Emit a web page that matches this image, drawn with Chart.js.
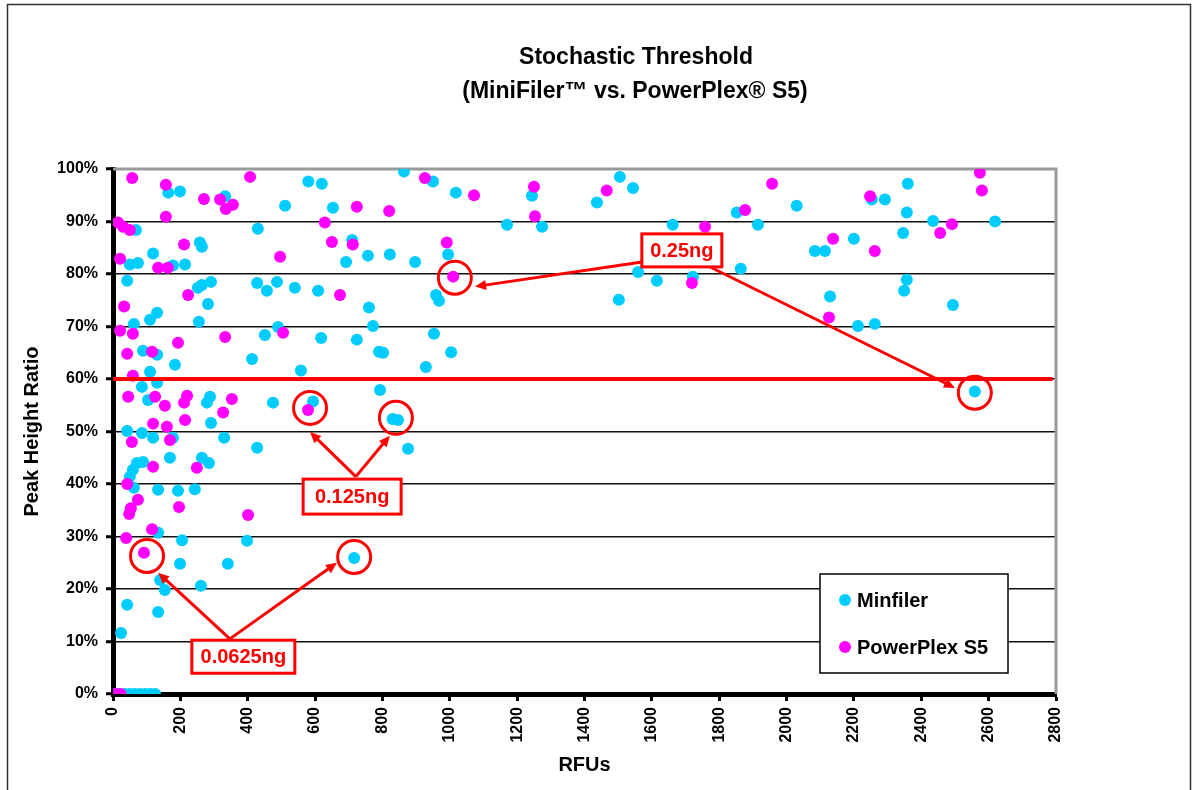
<!DOCTYPE html>
<html>
<head>
<meta charset="utf-8">
<title>Stochastic Threshold</title>
<script src="https://cdn.jsdelivr.net/npm/chart.js@4.4.1/dist/chart.umd.min.js"></script>
<style>
  html, body { margin: 0; padding: 0; background: #fff; }
  #contenedor { width: 1192px; height: 790px; }
</style>
</head>
<body>
<div id="contenedor"><canvas id="grafico"></canvas></div>
<script>
// ==========================================
// Datos
// ==========================================

// MiniFiler: RFUs y ratio de altura de picos (%)
const minfilerRfu = [
    5, 20, 35, 50, 65, 80, 95, 110, 125,
    24, 42, 134, 140, 154, 261, 199, 341, 716, 134, 205, 398,
    62, 134, 193, 243, 71, 89, 59, 50, 264, 285, 169, 428, 330,
    42, 86, 119, 178, 291, 104, 288, 279, 475, 594,
    86, 131, 110, 558, 184, 413, 89, 131,
    62, 110, 131, 255, 451, 490, 618,
    42, 264, 291, 252, 282, 428, 457, 487, 540, 609,
    50, 74, 178, 214, 119, 258, 264, 68, 430,
    164, 199, 333, 511, 580, 620,
    653, 710, 692, 757, 822, 897, 760, 772, 724, 790, 802, 793, 830, 846,
    876, 864, 950, 1018, 1170, 1244, 1274, 995, 959, 968, 953, 1004, 929,
    1505, 1544, 1437, 2030, 1852, 1915, 1662, 2360, 2253, 2292, 2357, 2435, 2619, 2346,
    2200, 2084, 2114, 2357, 2349, 2494, 2129, 2212, 2262, 2559, 1864, 1559, 1615, 1722, 1502
];
const minfilerRatio = [
    0, 0, 0, 0, 0, 0, 0, 0, 0,
    11.6, 17.0, 15.6, 21.7, 19.8, 20.6, 24.8, 24.8, 25.9, 30.7, 29.3, 29.2,
    39.3, 38.9, 38.7, 39.0, 44.0, 44.2, 42.7, 41.4, 45.0, 44.0, 45.0, 46.9, 48.8,
    50.1, 49.7, 48.8, 48.8, 51.6, 56.0, 56.6, 55.5, 55.5, 55.7,
    58.5, 59.3, 61.4, 61.6, 62.7, 63.8, 65.4, 64.6,
    70.5, 71.3, 72.6, 70.9, 68.4, 69.9, 67.8,
    78.7, 77.9, 78.5, 77.4, 74.3, 78.3, 76.8, 78.5, 77.4, 76.8,
    81.8, 82.1, 81.6, 81.8, 83.9, 86.0, 85.2, 88.4, 88.6,
    95.5, 95.7, 94.8, 93.0, 97.6, 97.2,
    92.6, 86.5, 82.3, 83.5, 83.7, 82.3, 73.6, 70.1, 67.5, 65.2, 65.0, 57.9, 52.4, 52.2,
    46.7, 99.5, 97.6, 95.5, 89.4, 94.9, 89.0, 83.7, 76.0, 74.9, 68.6, 65.1, 62.3,
    98.5, 96.4, 93.6, 93.0, 91.7, 89.4, 89.4, 97.2, 94.2, 94.2, 91.7, 90.1, 90.0, 87.8,
    86.7, 84.4, 84.4, 78.9, 76.8, 74.1, 75.7, 70.1, 70.5, 57.6, 81.0, 80.4, 78.7, 79.5, 75.1
];

// PowerPlex S5
const powerplexRfu = [
    8, 22,
    39, 92, 116, 48, 53, 401, 196, 74, 42,
    119, 249, 56, 169, 160, 119, 214, 579, 327, 353, 211, 220, 154, 125, 45, 59,
    116, 42, 193, 505, 333, 59, 21, 33, 223,
    163, 134, 21, 496, 211, 50, 30, 15, 157, 407, 335, 356, 318, 270, 157, 57,
    674, 712, 650, 629, 820, 724, 926, 1072, 1250, 1253, 991, 1010,
    1466, 1957, 1877, 1758, 2248, 2574, 2580, 2491, 2456, 2138, 2262, 2126, 1719
];
const powerplexRatio = [
    0, 0,
    29.7, 26.9, 31.4, 34.3, 35.4, 34.1, 35.6, 37.0, 40.0,
    43.3, 43.1, 48.0, 48.4, 50.9, 51.5, 52.2, 54.1, 53.6, 56.2, 55.5, 56.8, 54.9, 56.6, 56.6, 60.6,
    65.2, 64.8, 66.9, 68.8, 68.0, 68.6, 69.2, 73.8, 76.0,
    81.2, 81.2, 82.9, 83.3, 85.6, 88.4, 89.0, 89.8, 90.9, 98.5, 92.4, 93.2, 94.2, 94.3, 97.0, 98.3,
    76.0, 85.6, 86.1, 89.8, 92.0, 92.8, 98.3, 95.0, 96.6, 91.0, 86.0, 79.5,
    95.9, 97.2, 92.2, 89.0, 94.8, 99.3, 95.9, 89.5, 87.8, 86.7, 84.4, 71.7, 78.3
];

// Umbral estocástico (línea roja)
const umbralRfu = [0, 2790];
const umbralRatio = [60, 60];

// Marcas de los ejes
const rfuTicks = [0, 200, 400, 600, 800, 1000, 1200, 1400, 1600, 1800, 2000, 2200, 2400, 2600, 2800];
const ratioTicks = [0, 10, 20, 30, 40, 50, 60, 70, 80, 90, 100];

// Anotaciones en rojo (en unidades de datos: RFU, %)
const anotaciones = [
    { texto: '0.0625ng', centro: [387, 7.1], ancho: 103, alto: 33, origen: [347, 10.5],
      flechas: [[134, 23.1], [665, 25.0]], circulos: [[101, 26.3], [716, 26.1]] },
    { texto: '0.125ng', centro: [710, 37.6], ancho: 98, alto: 35, origen: [721, 41.4],
      flechas: [[585, 49.9], [822, 49.2]], circulos: [[585, 54.5], [840, 52.6]] },
    { texto: '0.25ng', centro: [1689, 84.5], ancho: 80, alto: 33, origen: null,
      flechas: [], circulos: [[1015, 79.3], [2559, 57.4]] }
];
// flechas de 0.25ng salen de puntos distintos del recuadro
const flechas025 = [
    { desde: [1571, 82.3], hasta: [1075, 77.6] },
    { desde: [1752, 82.0], hasta: [2500, 58.3] }
];

const ROJO = '#ff0000';
const FAMILIA = '"Liberation Sans", Arial, sans-serif';

const aPuntos = (xs, ys) => xs.map((x, i) => ({ x: x, y: ys[i] }));

// ==========================================
// Plugins propios
// ==========================================

// Fondo, marco exterior, título y borde gris del área de trazado
const marco = {
    id: 'marco',
    beforeDraw(chart) {
        const { ctx, width, height } = chart;
        ctx.save();
        ctx.fillStyle = '#ffffff';
        ctx.fillRect(0, 0, width, height);
        ctx.strokeStyle = '#333333';
        ctx.lineWidth = 1.5;
        ctx.strokeRect(7.5, 4.5, width - 9, height + 10);

        ctx.fillStyle = '#000000';
        ctx.font = 'bold 23px ' + FAMILIA;
        ctx.textAlign = 'center';
        ctx.textBaseline = 'middle';
        ctx.fillText('Stochastic Threshold', 636, 58);
        ctx.fillText('(MiniFiler™ vs. PowerPlex® S5)', 635, 92);
        ctx.restore();
    },
    beforeDatasetsDraw(chart) {
        const { ctx, chartArea: a } = chart;
        ctx.save();
        ctx.strokeStyle = '#9a9a9a';
        ctx.lineWidth = 3;
        ctx.beginPath();
        ctx.moveTo(a.left, a.top);
        ctx.lineTo(a.right, a.top);
        ctx.lineTo(a.right, a.bottom);
        ctx.stroke();
        ctx.restore();
    }
};

function dibujarFlecha(ctx, x1, y1, x2, y2) {
    const ang = Math.atan2(y2 - y1, x2 - x1);
    const largo = 11, medio = 5;
    ctx.beginPath();
    ctx.moveTo(x1, y1);
    ctx.lineTo(x2 - Math.cos(ang) * largo * 0.6, y2 - Math.sin(ang) * largo * 0.6);
    ctx.stroke();
    ctx.beginPath();
    ctx.moveTo(x2, y2);
    ctx.lineTo(x2 - Math.cos(ang) * largo + Math.sin(ang) * medio, y2 - Math.sin(ang) * largo - Math.cos(ang) * medio);
    ctx.lineTo(x2 - Math.cos(ang) * largo - Math.sin(ang) * medio, y2 - Math.sin(ang) * largo + Math.cos(ang) * medio);
    ctx.closePath();
    ctx.fill();
}

// Círculos, flechas y recuadros rojos + leyenda enmarcada
const notas = {
    id: 'notas',
    afterDatasetsDraw(chart) {
        const { ctx, chartArea: a } = chart;
        const sx = chart.scales.x, sy = chart.scales.y;
        const px = v => sx.getPixelForValue(v);
        const py = v => sy.getPixelForValue(v);

        ctx.save();
        ctx.strokeStyle = ROJO;
        ctx.fillStyle = ROJO;
        ctx.lineWidth = 3;

        // circulos
        anotaciones.forEach(n => {
            n.circulos.forEach(c => {
                ctx.beginPath();
                ctx.arc(px(c[0]), py(c[1]), 16.5, 0, Math.PI * 2);
                ctx.stroke();
            });
        });

        // flechas
        anotaciones.forEach(n => {
            n.flechas.forEach(f => {
                dibujarFlecha(ctx, px(n.origen[0]), py(n.origen[1]), px(f[0]), py(f[1]));
            });
        });
        flechas025.forEach(f => {
            dibujarFlecha(ctx, px(f.desde[0]), py(f.desde[1]), px(f.hasta[0]), py(f.hasta[1]));
        });

        // recuadros con texto
        ctx.font = 'bold 20px ' + FAMILIA;
        ctx.textAlign = 'center';
        ctx.textBaseline = 'middle';
        anotaciones.forEach(n => {
            const cx = px(n.centro[0]), cy = py(n.centro[1]);
            ctx.fillStyle = '#ffffff';
            ctx.fillRect(cx - n.ancho / 2, cy - n.alto / 2, n.ancho, n.alto);
            ctx.strokeRect(cx - n.ancho / 2, cy - n.alto / 2, n.ancho, n.alto);
            ctx.fillStyle = ROJO;
            ctx.fillText(n.texto, cx, cy + 1);
        });
        ctx.restore();

        // leyenda (Minfiler primero, como en el original)
        const series = chart.data.datasets.filter(d => d.enLeyenda).sort((p, q) => q.order - p.order);
        const lx = a.right - 236, ly = a.bottom - 120, lw = 188, lh = 99;
        ctx.save();
        ctx.fillStyle = '#ffffff';
        ctx.fillRect(lx, ly, lw, lh);
        ctx.strokeStyle = '#000000';
        ctx.lineWidth = 1.5;
        ctx.strokeRect(lx, ly, lw, lh);
        ctx.font = 'bold 20px ' + FAMILIA;
        ctx.textAlign = 'left';
        ctx.textBaseline = 'middle';
        series.forEach((d, i) => {
            const yy = ly + 26 + i * 47;
            ctx.fillStyle = d.backgroundColor;
            ctx.beginPath();
            ctx.arc(lx + 25, yy, 6, 0, Math.PI * 2);
            ctx.fill();
            ctx.fillStyle = '#000000';
            ctx.fillText(d.label, lx + 37, yy + 1);
        });
        ctx.restore();
    }
};

// ==========================================
// Gráfico
// ==========================================
const fuenteTick = { family: FAMILIA, size: 16, weight: 'bold' };
const fuenteTitulo = { family: FAMILIA, size: 20, weight: 'bold' };

new Chart(document.getElementById('grafico'), {
    type: 'scatter',
    data: {
        datasets: [
            {
                label: 'Umbral',
                data: aPuntos(umbralRfu, umbralRatio),
                showLine: true,
                borderColor: ROJO,
                borderWidth: 4,
                pointRadius: 0,
                order: 0
            },
            {
                label: 'PowerPlex S5',
                data: aPuntos(powerplexRfu, powerplexRatio),
                backgroundColor: '#ff00ff',
                borderColor: '#ff00ff',
                borderWidth: 0,
                pointRadius: 6,
                enLeyenda: true,
                order: 1
            },
            {
                label: 'Minfiler',
                data: aPuntos(minfilerRfu, minfilerRatio),
                backgroundColor: '#00ccff',
                borderColor: '#00ccff',
                borderWidth: 0,
                pointRadius: 6,
                enLeyenda: true,
                order: 2
            }
        ]
    },
    options: {
        responsive: true,
        maintainAspectRatio: false,
        animation: false,
        events: [],
        layout: { padding: { top: 169, right: 136, left: 0, bottom: 0 } },
        scales: {
            x: {
                type: 'linear',
                min: 0,
                max: 2800,
                afterBuildTicks: s => { s.ticks = rfuTicks.map(v => ({ value: v })); },
                afterFit: s => { s.height = 96; },
                ticks: { autoSkip: false, minRotation: 90, maxRotation: 90, padding: 6, color: '#000', font: fuenteTick,
                         callback: v => String(v) },
                grid: { drawOnChartArea: false, drawTicks: true, tickLength: 7, tickWidth: 3, tickColor: '#000' },
                border: { color: '#000', width: 5 },
                title: { display: true, text: 'RFUs', color: '#000', font: fuenteTitulo, padding: { top: 0, bottom: 13 } }
            },
            y: {
                min: 0,
                max: 100,
                afterBuildTicks: s => { s.ticks = ratioTicks.map(v => ({ value: v })); },
                afterFit: s => { s.width = 113; },
                ticks: { padding: 8, color: '#000', font: fuenteTick, callback: v => v + '%' },
                grid: {
                    color: c => (c.tick && (c.tick.value === 0 || c.tick.value === 100)) ? 'rgba(0,0,0,0)' : '#111',
                    lineWidth: 1.5,
                    drawTicks: true,
                    tickLength: 7,
                    tickWidth: 3,
                    tickColor: '#000'
                },
                border: { color: '#000', width: 5 },
                title: { display: true, text: 'Peak Height Ratio', color: '#000', font: fuenteTitulo, padding: { top: 20, bottom: 0 } }
            }
        },
        plugins: {
            legend: { display: false },
            tooltip: { enabled: false }
        }
    },
    plugins: [marco, notas]
});
</script>
</body>
</html>
